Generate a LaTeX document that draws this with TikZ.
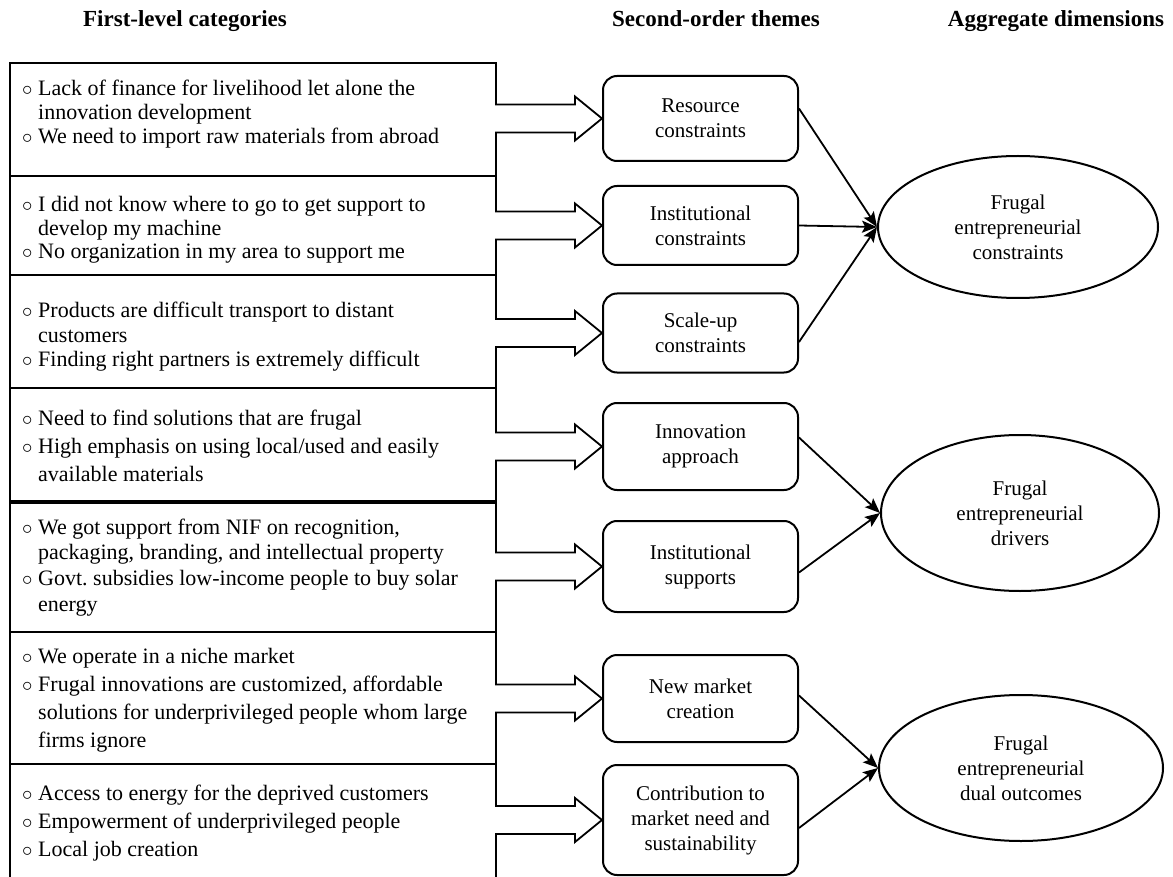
\documentclass[tikz,border=0pt]{standalone}
\usepackage{fontspec}
\setmainfont{Liberation Serif}
\frenchspacing
\usetikzlibrary{shapes.geometric,arrows.meta,calc}
\newcommand{\bul}{\makebox[16pt][l]{$\circ$}}
\newcommand{\ind}{\hspace*{16pt}}
\newcommand{\callout}[3]{%
  \draw[lbox] (10,#1) -- (496,#1) |- ($(#3.west)+(-27,-14)$) -- ++(0,-8)
    -- (#3.west) -- ($(#3.west)+(-27,22)$) -- ++(0,-8) -| (496,#2) -- (10,#2) -- cycle;}
\newcommand{\items}[2]{\parbox[t]{560pt}{\fontsize{22}{#1}\selectfont #2}}
\tikzset{
  lbox/.style={line width=1.8pt, line join=miter},
  mid/.style={draw, line width=2pt, rounded corners=14pt, minimum width=195pt,
    align=center, inner sep=0pt, font=\fontsize{21}{25}\selectfont},
  ell/.style={draw, ellipse, line width=2pt, inner sep=0pt, align=center,
    font=\fontsize{21}{25}\selectfont},
  conn/.style={line width=1.8pt, -{Stealth[length=15pt,width=12pt,inset=3pt]}},
  head/.style={anchor=base, inner sep=0pt, font=\fontsize{23}{27}\selectfont\bfseries},
  txt/.style={anchor=base west, inner sep=0pt}
}
\begin{document}
\begin{tikzpicture}[x=1pt,y=-1pt]
\useasboundingbox (0,0) rectangle (1173,877);
\clip (0,0) rectangle (1173,877);

% headers
\node[head] (h1) at (185,27) {First-level categories};
\node[head] (h2) at (716,27) {Second-order themes};
\node[head] (h3) at (1056,27) {Aggregate dimensions};

% second-order themes
\node[mid, minimum height=85pt] (m1) at (700.5,118.5) {Resource\\constraints};
\node[mid, minimum height=79pt] (m2) at (700.5,225.5) {Institutional\\constraints};
\node[mid, minimum height=79pt] (m3) at (700.5,333) {Scale-up\\constraints};
\node[mid, minimum height=87pt] (m4) at (700.5,446.5) {Innovation\\approach};
\node[mid, minimum height=91pt] (m5) at (700.5,566.5) {Institutional\\supports};
\node[mid, minimum height=87pt] (m6) at (700.5,698.5) {New market\\creation};
\node[mid, minimum height=110pt] (m7) at (700.5,820) {Contribution to\\market need and\\sustainability};

% aggregate dimensions
\node[ell, minimum width=280pt, minimum height=142pt] (e1) at (1018,227) {Frugal\\entrepreneurial\\constraints};
\node[ell, minimum width=278pt, minimum height=156pt] (e2) at (1020,513) {Frugal\\entrepreneurial\\drivers};
\node[ell, minimum width=284pt, minimum height=146pt] (e3) at (1021,768) {Frugal\\entrepreneurial\\dual outcomes};

% first-level category boxes with block arrows
\callout{63}{176}{m1}
\callout{176}{275}{m2}
\callout{275}{388}{m3}
\callout{388}{501}{m4}
\callout{503}{632}{m5}
\callout{632}{764}{m6}
\callout{764}{900}{m7}

\node[txt] (t1) at (22,96) {\items{24}{\bul Lack of finance for livelihood let alone the\\ \ind innovation development\\ \bul We need to import raw materials from abroad}};
\node[txt] (t2) at (22,212) {\items{23.5}{\bul I did not know where to go to get support to\\ \ind develop my machine\\ \bul No organization in my area to support me}};
\node[txt] (t3) at (22,318) {\items{24.5}{\bul Products are difficult transport to distant\\ \ind customers\\ \bul Finding right partners is extremely difficult}};
\node[txt] (t4) at (22,425) {\items{28}{\bul Need to find solutions that are frugal\\ \bul High emphasis on using local/used and easily\\ \ind available materials}};
\node[txt] (t5) at (22,534) {\items{25.7}{\bul We got support from NIF on recognition,\\ \ind packaging, branding, and intellectual property\\ \bul Govt. subsidies low-income people to buy solar\\ \ind energy}};
\node[txt] (t6) at (22,663) {\items{28}{\bul We operate in a niche market\\ \bul Frugal innovations are customized, affordable\\ \ind solutions for underprivileged people whom large\\ \ind firms ignore}};
\node[txt] (t7) at (22,800) {\items{28}{\bul Access to energy for the deprived customers\\ \bul Empowerment of underprivileged people\\ \bul Local job creation}};

% connectors to aggregate dimensions
\draw[conn] ([yshift=10pt]m1.east) -- (e1.west);
\draw[conn] (m2.east) -- (e1.west);
\draw[conn] ([yshift=-9pt]m3.east) -- (e1.west);
\draw[conn] ([yshift=9pt]m4.east) -- (e2.west);
\draw[conn] ([yshift=-6pt]m5.east) -- (e2.west);
\draw[conn] ([yshift=3pt]m6.east) -- (e3.west);
\draw[conn] ([yshift=-8pt]m7.east) -- (e3.west);
\end{tikzpicture}
\end{document}
